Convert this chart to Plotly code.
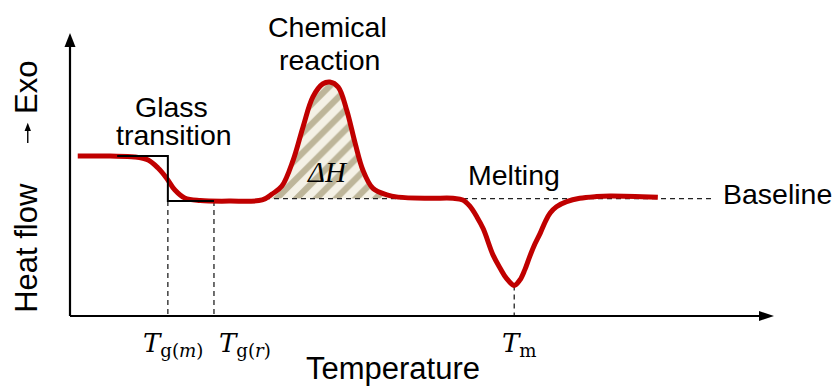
import plotly.graph_objects as go

# DSC thermogram: temperature (arbitrary units, 0 = origin, 100 = arrow tip)
# against heat flow (arbitrary units, exothermic upward)
temp = [1.1, 5.7, 9.2, 11.1, 12.5, 13.7, 14.9, 16.3, 18.5, 22.7, 27.3,
        28.7, 30.1, 31.7, 33.1, 34.5, 35.9, 36.9, 38.1, 39.3, 40.5, 41.6,
        43.0, 45.0, 46.6, 51.1, 54.4,
        55.8, 56.8, 57.8, 58.7, 60.1, 61.1, 62.0, 63.1, 63.9, 64.6,
        65.3, 66.05, 66.8, 67.5, 68.2, 69.1, 70.55, 72.4, 74.8, 76.7, 83.5]
heat = [56.5, 56.5, 56.2, 55.1, 52.3, 48.8, 44.5, 41.7, 40.8, 40.6, 41.0,
        43.1, 45.9, 55.1, 66.8, 77.4, 82.0, 82.7, 80.9, 72.8, 61.1, 51.6,
        45.2, 42.8, 42.0, 41.6, 41.6,
        41.0, 38.8, 35.0, 30.8, 21.5, 16.9, 13.3, 10.8, 12.7, 16.3,
        21.0, 25.5, 29.3, 33.3, 36.4, 38.6, 40.4, 41.6, 42.2, 42.4, 42.0]

# reaction peak segment (shaded area = enthalpy)
peak_start, peak_end = 27.7, 46.6
baseline_level = 41.5
baseline_span = [27.7, 91.5]

# glass transition construction: onset/midpoint temperatures and step levels
tg_m, tg_r = 13.9, 20.45
glass_upper, glass_lower = 56.5, 40.6
glass_left = 6.7

# melting peak temperature and its minimum
t_melt, melt_min = 63.1, 10.8

tick_labels = {
    "Tg_m": "<i>T</i><sub>g(<i>m</i>)</sub>",
    "Tg_r": "<i>T</i><sub>g(<i>r</i>)</sub>",
    "Tm": "<i>T</i><sub>m</sub>",
}

# ---- pixel frame of the drawing
W, H = 836, 387
ORIGIN_X, TIP_X = 70, 774
ORIGIN_Y, TIP_Y = 316, 33
sx = (TIP_X - ORIGIN_X) / 100.0
sy = (ORIGIN_Y - TIP_Y) / 100.0
x_range = [-ORIGIN_X / sx, (W - ORIGIN_X) / sx]
y_range = [-(H - ORIGIN_Y) / sy, ORIGIN_Y / sy]

RED = "#c00000"
SANS = "Liberation Sans, Arial, sans-serif"
SERIF = "Liberation Serif, Times New Roman, serif"
MATH = "DejaVu Serif, serif"

fig = go.Figure()

# baseline under the reaction peak (fill reference)
peak_T = [t for t in temp if peak_start <= t <= peak_end]
peak_Q = [q for t, q in zip(temp, heat) if peak_start <= t <= peak_end]
fig.add_trace(go.Scatter(
    x=[peak_start] + peak_T + [peak_end],
    y=[baseline_level] * (len(peak_T) + 2),
    mode="lines", line=dict(width=0), hoverinfo="skip", showlegend=False))
fig.add_trace(go.Scatter(
    x=[peak_start] + peak_T + [peak_end],
    y=[baseline_level] + peak_Q + [baseline_level],
    mode="lines", line=dict(width=0, shape="spline"),
    fill="tonexty", fillcolor="#f4f1e6",
    fillpattern=dict(shape="/", fgcolor="#857a4c", bgcolor="#f4f1e6",
                     size=14, solidity=0.45),
    hoverinfo="skip", showlegend=False))

# dashed baseline
fig.add_trace(go.Scatter(
    x=baseline_span, y=[baseline_level, baseline_level], mode="lines",
    line=dict(color="#222222", width=1.3, dash="5px,4px"),
    hoverinfo="skip", showlegend=False))

# dashed drop lines to the temperature axis
for xv, top in [(tg_m, glass_lower), (tg_r, glass_lower), (t_melt, melt_min)]:
    fig.add_trace(go.Scatter(
        x=[xv, xv], y=[top, 0], mode="lines",
        line=dict(color="#222222", width=1.3, dash="5px,4px"),
        hoverinfo="skip", showlegend=False))

# the DSC curve
fig.add_trace(go.Scatter(
    x=temp, y=heat, mode="lines",
    line=dict(color=RED, width=5, shape="spline", smoothing=1.0),
    hoverinfo="skip", showlegend=False))

# glass transition step construction
fig.add_trace(go.Scatter(
    x=[glass_left, tg_m, tg_m, tg_r],
    y=[glass_upper, glass_upper, glass_lower, glass_lower],
    mode="lines", line=dict(color="black", width=2),
    hoverinfo="skip", showlegend=False))

# axes with arrowheads
fig.add_trace(go.Scatter(x=[0, 0], y=[0, 97], mode="lines",
                         line=dict(color="black", width=2.2),
                         hoverinfo="skip", showlegend=False))
fig.add_trace(go.Scatter(x=[0, 98], y=[0, 0], mode="lines",
                         line=dict(color="black", width=2.2),
                         hoverinfo="skip", showlegend=False))
hx, hy = 15 / sx, 5.5 / sx
fig.add_shape(type="path", xref="x", yref="y",
              path=f"M {-hy} {100 - 14 / sy} L 0 100 L {hy} {100 - 14 / sy} Z",
              fillcolor="black", line=dict(width=0))
fig.add_shape(type="path", xref="x", yref="y",
              path=f"M {100 - hx} {5 / sy} L 100 0 L {100 - hx} {-5 / sy} Z",
              fillcolor="black", line=dict(width=0))


def label(x, y, text, size=28.5, family=SANS, **kw):
    fig.add_annotation(x=x, y=y, xref="x", yref="y", text=text,
                       showarrow=False, font=dict(family=family, size=size,
                                                  color="black"), **kw)


label(14.35, 74.0, "Glass")
label(14.8, 63.8, "transition")
label(36.6, 102.2, "Chemical")
label(36.8, 90.4, "reaction")
label(63.1, 50.0, "Melting")
label(100.5, 43.0, "Baseline")
label(36.6, 50.9, "<i>ΔH</i>", size=29, family=SERIF)
label(45.9, -18.6, "Temperature", size=31)

# y-axis title: "Heat flow  →Exo" with a small arrow between the words
label(-6.2, 24.2, "Heat flow", size=31, textangle=-90)
label(-6.2, 80.7, "Exo", size=31, textangle=-90)
ax_x = -6.0
tail, neck, tip = 61.1, 65.4, 68.3
fig.add_shape(type="line", xref="x", yref="y", x0=ax_x, x1=ax_x,
              y0=tail, y1=neck + 0.5, line=dict(color="black", width=1.4))
aw = 3.2 / sx
fig.add_shape(type="path", xref="x", yref="y",
              path=f"M {ax_x - aw} {neck} L {ax_x} {tip} L {ax_x + aw} {neck} Z",
              fillcolor="black", line=dict(width=0))

label(14.7, -10.2, tick_labels["Tg_m"], size=26, family=MATH)
label(24.8, -10.2, tick_labels["Tg_r"], size=26, family=MATH)
label(63.8, -10.2, tick_labels["Tm"], size=26, family=MATH)

fig.update_layout(
    width=W, height=H,
    margin=dict(l=0, r=0, t=0, b=0, autoexpand=False),
    paper_bgcolor="white", plot_bgcolor="white",
    xaxis=dict(range=x_range, visible=False, fixedrange=True),
    yaxis=dict(range=y_range, visible=False, fixedrange=True),
    showlegend=False,
)

fig.write_html("out.html")
